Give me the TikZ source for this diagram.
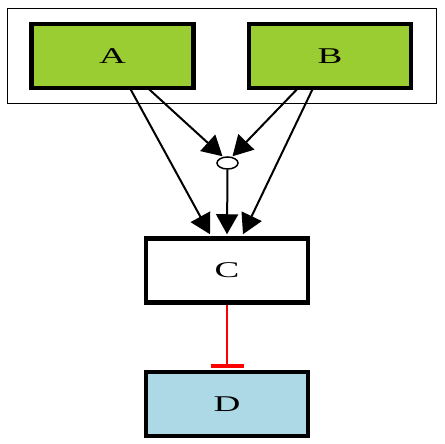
\documentclass[tikz,border=0pt]{standalone}
\usepackage{fontspec}
\setmainfont{Liberation Serif}
\newfontfamily\widefont[FakeStretch=1.65]{Liberation Serif}
\usetikzlibrary{arrows.meta,shapes.geometric,calc}
\definecolor{ygreen}{HTML}{9ACD32}
\definecolor{lblue}{HTML}{ADD8E6}
\tikzset{
  box/.style={draw=black, line width=4.5pt, rectangle, minimum width=162pt, minimum height=64pt, inner sep=0pt, font=\widefont\fontsize{22.5}{26}\selectfont},
  conn/.style={draw=black, line width=2pt, -{Triangle[length=20pt,width=22pt]}},
  inh/.style={draw=red, line width=2pt, -{Bar[width=33pt,line width=4pt]}},
}
\begin{document}
\begin{tikzpicture}[x=1pt,y=-1pt]
\useasboundingbox (0,0) rectangle (444,444);
\node[draw=black, line width=1.5pt, rectangle, minimum width=429pt, minimum height=95pt, inner sep=0pt] (cluster) at (222,56) {};
\node[box, fill=ygreen] (A) at (112.5,56) {A};
\node[box, fill=ygreen] (B) at (330,56) {B};
\node[draw=black, line width=1.5pt, ellipse, minimum width=21pt, minimum height=12pt, inner sep=0pt, fill=white] (J) at (227.5,163) {};
\node[box, fill=white] (C) at (227,270.5) {C};
\node[box, fill=lblue] (D) at (227,404) {D};
\draw[conn] ($(A.south)+(17.5,-2)$) -- ($(C.north)+(-17,-2)$);
\draw[conn] ($(A.south)+(35.5,-2)$) -- ($(J.north)+(-5,0)$);
\draw[conn] ($(B.south)+(-32,-2)$) -- ($(J.north)+(5,0)$);
\draw[conn] ($(B.south)+(-17,-2)$) -- ($(C.north)+(16,-2)$);
\draw[conn] (J.south) -- ($(C.north)+(0,-2)$);
\draw[inh] (C.south) -- ($(D.north)+(0,-1.5)$);
\end{tikzpicture}
\end{document}
